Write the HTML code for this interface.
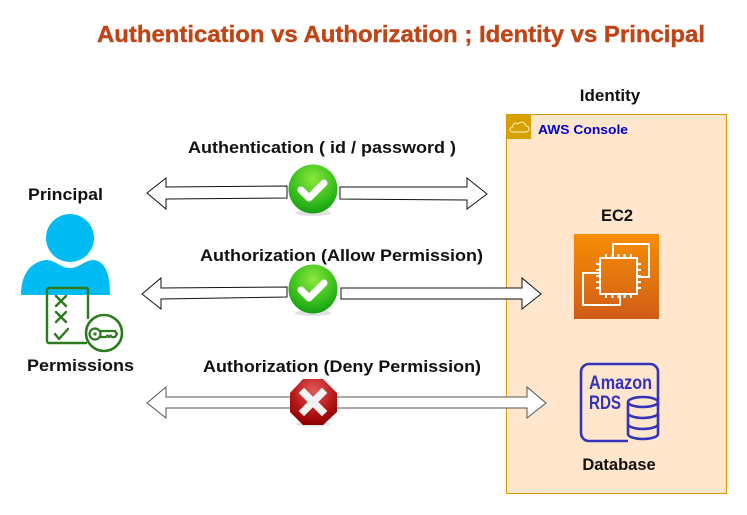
<!DOCTYPE html>
<html><head><meta charset="utf-8"><style>
html,body{margin:0;padding:0;background:#fff;}
svg{display:block;}
text{font-family:"Liberation Sans",Arial,sans-serif;font-weight:bold;}
</style></head><body>
<svg width="747" height="515" viewBox="0 0 747 515" xmlns="http://www.w3.org/2000/svg">
<defs>
<radialGradient id="gc" cx="50%" cy="30%" r="70%">
<stop offset="0" stop-color="#8BE83C"/><stop offset="0.6" stop-color="#3EC21E"/><stop offset="1" stop-color="#14A014"/>
</radialGradient>
<radialGradient id="rc" cx="50%" cy="25%" r="75%">
<stop offset="0" stop-color="#E05A5A"/><stop offset="0.6" stop-color="#B81818"/><stop offset="1" stop-color="#8E0000"/>
</radialGradient>
<linearGradient id="ec2" x1="0" y1="0" x2="0" y2="1">
<stop offset="0" stop-color="#F78E04"/><stop offset="1" stop-color="#D05C17"/>
</linearGradient>
</defs>

<!-- Title -->
<text x="97" y="42" font-size="23.5" fill="#BF4516" stroke="#BF4516" stroke-width="0.4" textLength="608" lengthAdjust="spacingAndGlyphs">Authentication vs Authorization ; Identity vs Principal</text>

<!-- AWS box -->
<rect x="506.5" y="114.5" width="220" height="379" fill="#FFE6CC" stroke="#D79B00" stroke-width="1"/>
<rect x="507" y="115" width="24" height="24" fill="#D9A100"/>
<path d="M512,132 h14 a3,3 0 0 0 0,-6 a4.5,4.5 0 0 0 -8,-2 a3,3 0 0 0 -5,3 a2.5,2.5 0 0 0 -1,5z" fill="none" stroke="#FFF3D6" stroke-width="0.9"/>
<text x="538" y="134" font-size="13" fill="#0000CC" textLength="90" lengthAdjust="spacingAndGlyphs">AWS Console</text>

<text x="610" y="101" font-size="17" fill="#111" text-anchor="middle">Identity</text>
<text x="617" y="221" font-size="16.5" fill="#111" text-anchor="middle">EC2</text>
<text x="619" y="470" font-size="16.5" fill="#111" text-anchor="middle">Database</text>

<!-- EC2 icon -->
<rect x="574" y="234" width="85" height="85" fill="url(#ec2)"/>
<g fill="none" stroke="#fff" stroke-width="2" stroke-linejoin="round">
<path d="M613,258 V244 H649 V277 H637"/>
<path d="M600,273 H583 V305 H620 V294"/>
<rect x="600" y="258" width="37" height="36"/>
<path d="M606,258v-4 M612.5,258v-4 M618.5,258v-4 M624.5,258v-4 M631,258v-4
M606,294v4 M612.5,294v4 M618.5,294v4 M624.5,294v4 M631,294v4
M600,264h-4 M600,270h-4 M600,276h-4 M600,282h-4 M600,288h-4
M637,264h4 M637,270h4 M637,276h4 M637,282h4 M637,288h4"/>
</g>

<!-- RDS icon -->
<g fill="none" stroke="#3334B9" stroke-width="2.6">
<path d="M628,441 H589 a8,8 0 0 1 -8,-8 V372 a8,8 0 0 1 8,-8 H650 a8,8 0 0 1 8,8 V402"/>
<path d="M628,402 v32 a15,5 0 0 0 30,0 v-32"/>
<ellipse cx="643" cy="402" rx="15" ry="5"/>
<path d="M628,413 a15,5 0 0 0 30,0 M628,424 a15,5 0 0 0 30,0"/>
</g>
<text x="589" y="389" font-size="19" fill="#3334B9" textLength="63" lengthAdjust="spacingAndGlyphs">Amazon</text>
<text x="589" y="409" font-size="19" fill="#3334B9" textLength="32" lengthAdjust="spacingAndGlyphs">RDS</text>

<!-- Principal side -->
<text x="28" y="200" font-size="17" fill="#111" textLength="75" lengthAdjust="spacingAndGlyphs">Principal</text>
<circle cx="70" cy="238" r="24" fill="#00BCF2"/>
<path d="M21,295 C21,275 30,262 46,260 C56,260 60,268 70,268 C80,268 84,260 94,260 C106,262 110,275 110,295 Z" fill="#00BCF2"/>
<!-- permissions icon -->
<g fill="none" stroke="#2B7A1E" stroke-width="2.4" stroke-linecap="round" stroke-linejoin="round">
<path d="M88,318 V290 a2,2 0 0 0 -2,-2 H49 a2,2 0 0 0 -2,2 V341 a2,2 0 0 0 2,2 H86"/>
<path d="M56,296 l10,10 M66,296 l-10,10"/>
<path d="M56,312 l10,10 M66,312 l-10,10"/>
<path d="M55,334 l4,5 l9,-10"/>
</g>
<circle cx="104" cy="333" r="18" fill="#fff" stroke="#2B7A1E" stroke-width="2.6"/>
<g fill="none" stroke="#2B7A1E" stroke-width="2.2" stroke-linejoin="round">
<circle cx="95" cy="334" r="5.5"/>
<path d="M100.5,331 H115 l2,3 l-2,3 H112 l-1.5,-1.5 l-1.5,1.5 l-1.5,-1.5 l-1.5,1.5 H100.5"/>
</g>
<circle cx="95" cy="334" r="1.6" fill="#2B7A1E"/>
<text x="27" y="371" font-size="17" fill="#111" textLength="107" lengthAdjust="spacingAndGlyphs">Permissions</text>

<!-- Labels -->
<text x="188" y="153" font-size="17" fill="#111" textLength="268" lengthAdjust="spacingAndGlyphs">Authentication ( id / password )</text>
<text x="200" y="261" font-size="17" fill="#111" textLength="283" lengthAdjust="spacingAndGlyphs">Authorization (Allow Permission)</text>
<text x="203" y="372" font-size="17" fill="#111" textLength="278" lengthAdjust="spacingAndGlyphs">Authorization (Deny Permission)</text>

<!-- Arrow 1 -->
<g fill="#fff" stroke="#111" stroke-width="1">
<polygon points="147,193 166,178 166,187 287,186 287,198 166,199 166,209"/>
<polygon points="487,194 467,178 467,187 340,187 340,199 467,200 467,209"/>
</g>
<!-- Arrow 2 -->
<g fill="#fff" stroke="#111" stroke-width="1">
<polygon points="142,294 161,278 161,288 287,287 287,297 161,299 161,309"/>
<polygon points="541,294 522,278 522,288 341,288 341,299 522,299 522,309"/>
</g>
<!-- Arrow 3 -->
<polygon points="147,403 166,387 166,397 527,397 527,387 546,403 527,418 527,408 166,408 166,418" fill="#fff" stroke="#555" stroke-width="1"/>

<!-- Check icons -->
<ellipse cx="313" cy="213" rx="18" ry="3" fill="#000" opacity="0.12"/>
<circle cx="313" cy="189" r="24.5" fill="url(#gc)"/>
<path d="M301,190 l8,8 l15,-15" fill="none" stroke="#fff" stroke-width="7" stroke-linecap="round" stroke-linejoin="round"/>

<ellipse cx="313" cy="313" rx="18" ry="3" fill="#000" opacity="0.12"/>
<circle cx="313" cy="289" r="24.5" fill="url(#gc)"/>
<path d="M301,290 l8,8 l15,-15" fill="none" stroke="#fff" stroke-width="7" stroke-linecap="round" stroke-linejoin="round"/>

<!-- Stop icon -->
<ellipse cx="313" cy="424" rx="17" ry="2.5" fill="#000" opacity="0.12"/>
<polygon points="303,379 323,379 337,393 337,412 323,425 303,425 290,412 290,393" fill="url(#rc)"/>
<path d="M304,393 l18,18 M322,393 l-18,18" stroke="#F4F4F4" stroke-width="7.5" stroke-linecap="square"/>
</svg>
</body></html>
